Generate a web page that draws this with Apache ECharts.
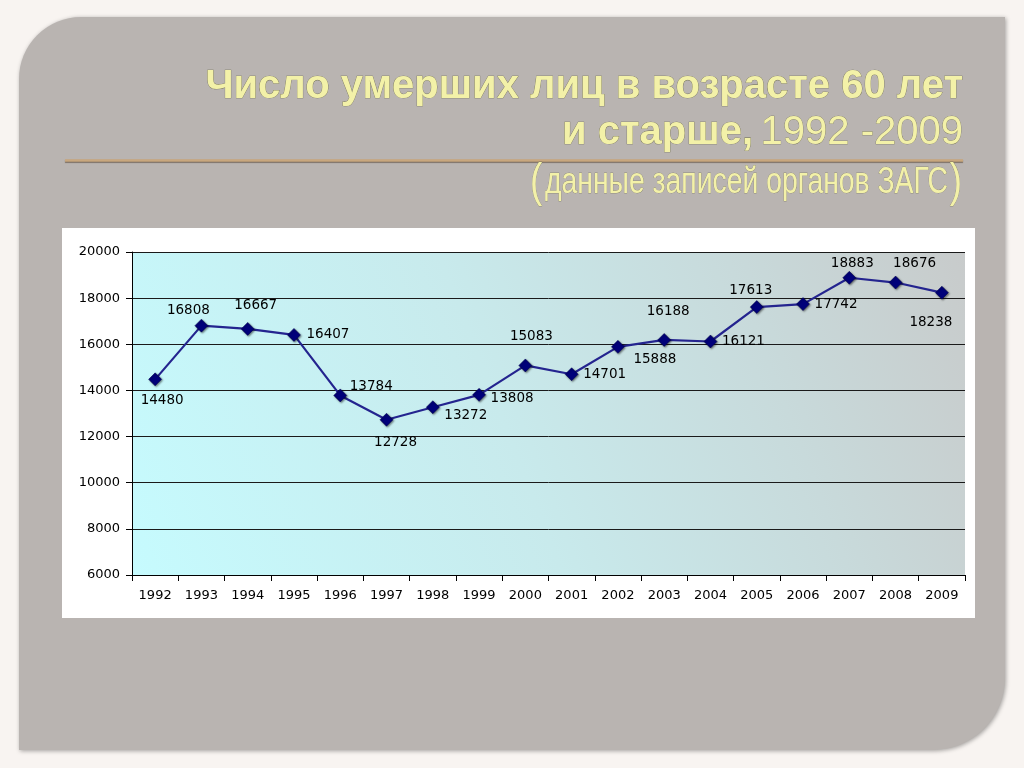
<!DOCTYPE html>
<html>
<head>
<meta charset="utf-8">
<script src="https://cdn.jsdelivr.net/npm/echarts@6/dist/echarts.min.js"></script>
<style>
html,body{margin:0;padding:0;background:#f8f4f1;}
#c{width:1024px;height:768px;}
</style>
</head>
<body>
<div id="c"></div>
<script>
const years = ['1992','1993','1994','1995','1996','1997','1998','1999','2000','2001','2002','2003','2004','2005','2006','2007','2008','2009'];
const deaths = [14480,16808,16667,16407,13784,12728,13272,13808,15083,14701,15888,16188,16121,17613,17742,18883,18676,18238];
const yTicks = [6000,8000,10000,12000,14000,16000,18000,20000];

// label offsets (styling only): [dx, dy] from each marker
const labelOffsets = [[7,21],[-13,-15],[8,-23],[34,0],[31,-9],[9,23],[33,8],[33,4],[6,-29],[33,0],[37,13],[4,-28],[33,0],[-6,-17],[33,0],[3,-14],[19,-19],[-11,30]];

const chart = echarts.init(document.getElementById('c'));
const seriesData = deaths.map((v,i)=>({
  value: v,
  label: {position: 'inside', offset: labelOffsets[i]}
}));

const titleColor = '#f3f1a8';
const sh = {shadowColor:'rgba(40,40,30,0.85)', shadowBlur:2, shadowOffsetX:1.5, shadowOffsetY:1.5};
function tstyle(extra){ return Object.assign({fill:titleColor, stroke:'#6d6b4c', lineWidth:0.6, verticalAlign:'middle'}, sh, extra); }

const option = {
  backgroundColor: '#f8f4f1',
  animation: false,
  graphic: [
    {type:'rect', z:-100, shape:{x:19,y:17,width:986,height:733,r:[62,0,72,0]},
     style:{fill:'#b9b4b1', shadowBlur:4, shadowColor:'rgba(0,0,0,0.35)', shadowOffsetX:1, shadowOffsetY:1}},
    {type:'rect', z:-90, shape:{x:62,y:228,width:913,height:390},
     style:{fill:'#ffffff'}},
    {type:'line', z:-80, shape:{x1:65,y1:160.5,x2:963,y2:160.5},
     style:{stroke:'#c8a77e', lineWidth:2.5, shadowBlur:1, shadowColor:'rgba(60,40,20,0.6)', shadowOffsetY:1}},
    {type:'text', z:10, style:tstyle({x:963, y:87, text:'Число умерших лиц в возрасте 60 лет', align:'right',
      font:'bold 40px "Liberation Sans", Arial, sans-serif'})},
    {type:'text', z:10, style:tstyle({x:963, y:133, text:'1992 -2009', align:'right',
      font:'40px "Liberation Sans", Arial, sans-serif', lineWidth:0.5})},
    {type:'text', z:10, style:tstyle({x:753, y:133, text:'и старше,', align:'right',
      font:'bold 40px "Liberation Sans", Arial, sans-serif'})},
    {type:'text', z:10, x:530, y:183, scaleX:0.8, style:tstyle({x:0, y:0, text:'(', align:'left',
      font:'46px "Liberation Sans", Arial, sans-serif', lineWidth:0.4})},
    {type:'text', z:10, x:948, y:183, scaleX:0.787, style:tstyle({x:0, y:0, text:'данные записей органов ЗАГС', align:'right',
      font:'36px "Liberation Sans", Arial, sans-serif', lineWidth:0.4})},
    {type:'text', z:10, x:962, y:183, scaleX:0.8, style:tstyle({x:0, y:0, text:')', align:'right',
      font:'46px "Liberation Sans", Arial, sans-serif', lineWidth:0.4})}
  ],
  grid: {
    left:132, right:59, top:252, bottom:193,
    show:true, borderWidth:0,
    backgroundColor: new echarts.graphic.LinearGradient(0,1,1,0,[
      {offset:0, color:'#c6fbfe'},
      {offset:0.45, color:'#c8eaec'},
      {offset:0.75, color:'#c8dadb'},
      {offset:1, color:'#c8cbcb'}
    ])
  },
  xAxis: {
    type:'category', data: years, boundaryGap:true,
    axisLine:{lineStyle:{color:'#000', width:1}},
    axisTick:{show:true, alignWithLabel:false, length:6, lineStyle:{color:'#000'}},
    axisLabel:{color:'#000', fontFamily:'"DejaVu Sans", Verdana, sans-serif', fontSize:13, margin:14}
  },
  yAxis: {
    type:'value', min:6000, max:20000, interval:2000,
    axisLine:{show:true, lineStyle:{color:'#000', width:1}},
    axisTick:{show:true, length:6, lineStyle:{color:'#000'}},
    axisLabel:{color:'#000', fontFamily:'"DejaVu Sans", Verdana, sans-serif', fontSize:13, margin:12,
      formatter: v => yTicks.includes(v) ? String(v) : ''},
    splitLine:{show:true, lineStyle:{color:'#1a1a1a', width:1}}
  },
  series: [{
    type:'line', data: seriesData,
    symbol:'diamond', symbolSize:13,
    lineStyle:{color:'#24248f', width:2.2},
    itemStyle:{color:'#00007a', borderColor:'#00004a', borderWidth:0.5,
      shadowColor:'rgba(0,0,0,0.5)', shadowBlur:2, shadowOffsetX:1, shadowOffsetY:1},
    label:{show:true, color:'#000', fontFamily:'"DejaVu Sans", Verdana, sans-serif', fontSize:13.5},
    z:5
  }]
};
chart.setOption(option);
</script>
</body>
</html>
